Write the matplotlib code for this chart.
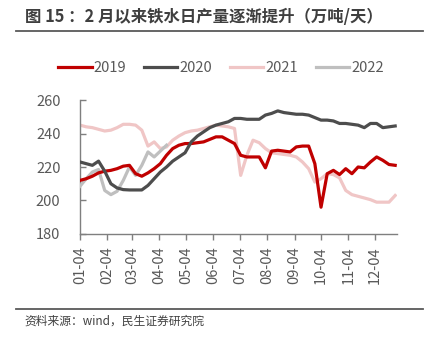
import matplotlib
matplotlib.use('Agg')
import matplotlib.pyplot as plt
import matplotlib.dates as mdates
import pandas as pd
from matplotlib.lines import Line2D

plt.rcParams['font.family'] = ['Noto Sans CJK SC', 'DejaVu Sans']

# weekly readings, first week ends 01-04
weeks = pd.date_range('2019-01-04', periods=52, freq='7D')
month_ticks = pd.to_datetime(['2019-%02d-04' % m for m in range(1, 13)])
labels = ['2019', '2020', '2021', '2022']

v2019 = [212, 213, 214.5, 216.5, 217.5, 218, 219, 220.5, 221, 216,
         214.5, 216.5, 219, 222, 227, 231, 233, 234, 234, 234.5,
         235, 236.5, 238, 238, 236, 234, 227, 226, 226, 226,
         219.5, 229.5, 230, 229.5, 229, 232, 232.5, 232.5, 222, 196,
         216, 218, 215.5, 219, 216, 220, 219.5, 223, 226, 224,
         221.5, 221]
v2020 = [223, 222, 221, 223.5, 217.5, 210, 207.5, 206.5, 206.3, 206.3,
         206.3, 209, 213, 217, 220, 223.5, 226, 228.5, 235, 238.5,
         241, 243.5, 245, 246, 247, 249, 249, 248.5, 248.5, 248.5,
         251, 252, 253.5, 252.5, 252, 251.5, 251.5, 251, 249.5, 248,
         248, 247.5, 246, 246, 245.5, 245, 243.5, 246, 246, 243.5,
         244, 244.5]
v2021 = [245, 244, 243.5, 242.5, 241.5, 242, 243.5, 245.5, 245.5, 245,
         242, 232.5, 235, 231, 232, 236, 238.5, 240.5, 241.5, 242,
         243, 244, 245, 244.5, 244, 243, 215, 227, 236, 234.5,
         231, 228.5, 228, 227.5, 227, 226, 223, 219, 211, 213,
         216, 215.5, 213.5, 206, 203.5, 202.5, 201.5, 200.5, 199, 199,
         199, 203]
v2022 = [208.5, 213, 217, 218.5, 206, 203.5, 205.5, 212, 220, 215,
         221, 229, 226, 229.5, 233]

colors = ['#C00000', '#4D4D4D', '#F0C6C6', '#BFBFBF']
zorders = [4, 5, 2, 3]
series = [v2019, v2020, v2021, v2022]

fig = plt.figure(figsize=(4.26, 3.41), dpi=100)
ax = fig.add_axes([0.1878, 0.3138, 0.744, 0.3929])

for vals, c, z, lab in zip(series, colors, zorders, labels):
    ax.plot(weeks[:len(vals)], vals, color=c, lw=2.3, label=lab, zorder=z)

ax.set_ylim(180, 260)
ax.set_yticks([180, 200, 220, 240, 260])
ax.set_xlim(pd.Timestamp('2019-01-04'), pd.Timestamp('2019-12-29'))
ax.set_xticks(month_ticks)
ax.xaxis.set_major_formatter(mdates.DateFormatter('%m-%d'))
for lbl in ax.get_xticklabels():
    lbl.set_rotation(90)

for s in ['top', 'right']:
    ax.spines[s].set_visible(False)
for s in ['left', 'bottom']:
    ax.spines[s].set_color('#7F7F7F')
    ax.spines[s].set_linewidth(1.0)
ax.tick_params(colors='#7F7F7F', labelcolor='#595959', labelsize=10.5,
               length=4, width=1.0)
ax.tick_params(axis='y', direction='in', pad=14)
ax.tick_params(axis='x', direction='out', pad=5)

handles = [Line2D([], [], color=c, lw=2.3) for c in colors]
fig.legend(handles, labels, loc='center', bbox_to_anchor=(0.519, 0.80),
           ncol=4, frameon=False, fontsize=10.5, handlelength=2.3,
           handletextpad=0.15, columnspacing=1.2, labelcolor='#595959')

fig.text(0.058, 0.95, '图 15 ：2 月以来铁水日产量逐渐提升（万吨/天）',
         fontsize=11.8, fontweight='bold', color='#3F3F3F', va='center', ha='left')
fig.add_artist(Line2D([0.038, 0.992], [0.91, 0.91], color='#595959', lw=1.3))
fig.add_artist(Line2D([0.038, 0.992], [0.094, 0.094], color='#595959', lw=1.3))
fig.text(0.058, 0.058, '资料来源：wind，民生证券研究院', fontsize=8.5,
         color='#404040', va='center', ha='left')

fig.savefig('out.png', dpi=100)
